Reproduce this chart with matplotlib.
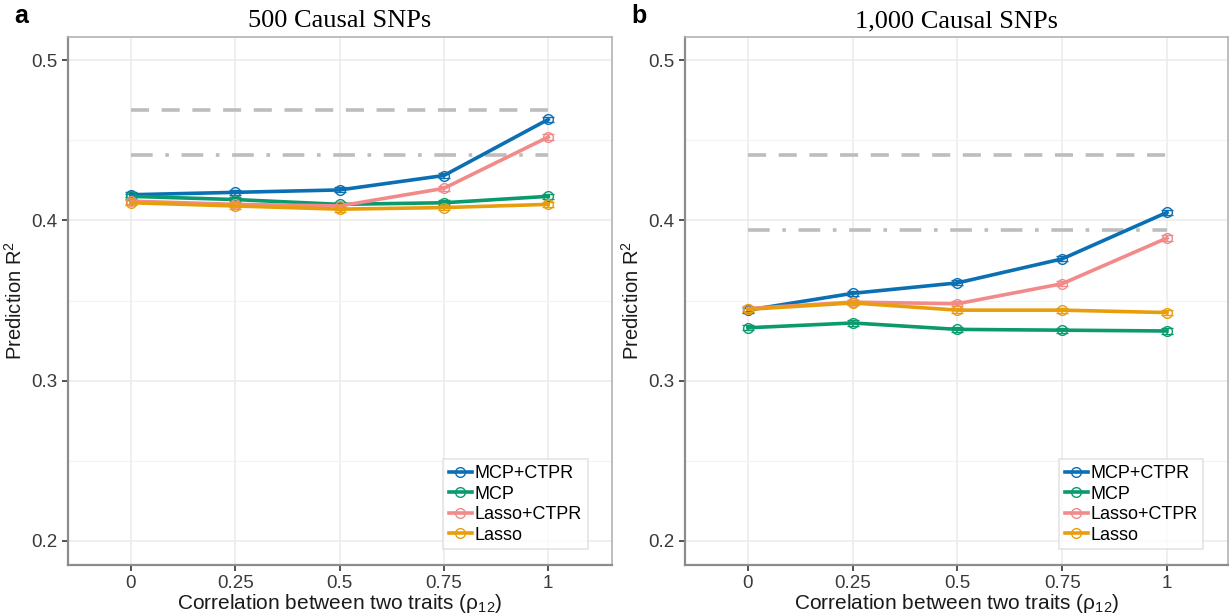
import matplotlib
matplotlib.use("Agg")
import matplotlib.pyplot as plt
from matplotlib.lines import Line2D
from matplotlib.ticker import FixedLocator

plt.rcParams["font.family"] = ["Liberation Sans", "DejaVu Sans"]
plt.rcParams["mathtext.default"] = "regular"

# 数据
rho = [0, 0.25, 0.5, 0.75, 1]
tick_labels = ["0", "0.25", "0.5", "0.75", "1"]
methods = ["MCP+CTPR", "MCP", "Lasso+CTPR", "Lasso"]
colors = ["#0b6fb3", "#0a9a6e", "#f28a8a", "#e89e0c"]

# 500 causal SNPs
a_mcp_ctpr = [0.416, 0.4175, 0.419, 0.428, 0.463]
a_mcp = [0.415, 0.413, 0.410, 0.411, 0.415]
a_lasso_ctpr = [0.412, 0.410, 0.409, 0.420, 0.452]
a_lasso = [0.411, 0.409, 0.407, 0.408, 0.410]
a_ref_dash = 0.469
a_ref_dashdot = 0.4405

# 1,000 causal SNPs
b_mcp_ctpr = [0.344, 0.3545, 0.361, 0.376, 0.405]
b_mcp = [0.333, 0.336, 0.332, 0.3315, 0.331]
b_lasso_ctpr = [0.345, 0.349, 0.348, 0.3605, 0.389]
b_lasso = [0.3445, 0.3485, 0.344, 0.344, 0.3425]
b_ref_dash = 0.4405
b_ref_dashdot = 0.394

err = 0.0016

fig = plt.figure(figsize=(12.29, 6.15), dpi=100)
ax_a = fig.add_axes([0.0553, 0.0813, 0.4427, 0.8585])
ax_b = fig.add_axes([0.5574, 0.0813, 0.4416, 0.8585])


def draw_panel(ax, series, ref_dash, ref_dashdot, xlim, title):
    ax.set_xlim(*xlim)
    ax.set_ylim(0.185, 0.5144)
    ax.set_axisbelow(True)
    ax.set_xticks(rho)
    ax.set_xticklabels(tick_labels)
    ax.set_yticks([0.2, 0.3, 0.4, 0.5])
    ax.set_yticklabels(["0.2", "0.3", "0.4", "0.5"])
    ax.yaxis.set_minor_locator(FixedLocator([0.25, 0.35, 0.45]))
    ax.grid(True, which="major", color="#ebebeb", lw=1.1)
    ax.grid(True, which="minor", axis="y", color="#f3f3f3", lw=0.8)
    ax.tick_params(which="minor", length=0)
    ax.tick_params(which="major", length=4, width=1.2, color="#333333",
                   labelsize=13.5, labelcolor="#3a3a3a")

    # 参考线
    ax.plot([0, 1], [ref_dash, ref_dash], color="#bdbdbd", lw=2.6,
            dashes=(5, 3.5), zorder=2)
    ax.plot([0, 1], [ref_dashdot, ref_dashdot], color="#bdbdbd", lw=2.6,
            dashes=(6, 3.5, 1, 3.5), zorder=2)

    handles = []
    for name, vals, c in zip(methods, series, colors):
        ax.errorbar(rho, vals, yerr=err, color=c, lw=2.6, capsize=4,
                    capthick=1.2, elinewidth=1.2, marker="o", ms=7,
                    mfc="none", mew=1.0, zorder=3)
        handles.append(Line2D([], [], color=c, lw=2.6, marker="o", ms=7,
                              mfc="none", mew=1.0, label=name))

    for side in ["top", "right"]:
        ax.spines[side].set_color("#b3b3b3")
        ax.spines[side].set_linewidth(1.2)
    for side in ["left", "bottom"]:
        ax.spines[side].set_color("#8c8c8c")
        ax.spines[side].set_linewidth(1.6)

    ax.set_xlabel(r"Correlation between two traits ($\rho_{12}$)",
                  fontsize=15, color="#1a1a1a", labelpad=0)
    ax.set_ylabel(r"Prediction R$^2$", fontsize=14.5, color="#1a1a1a", labelpad=4)
    ax.set_title(title, fontsize=19, family=["Liberation Serif", "DejaVu Serif"],
                 pad=7)
    leg = ax.legend(handles=handles, loc="lower right",
                    bbox_to_anchor=(0.955, 0.03),
                    fontsize=13, frameon=True, fancybox=False,
                    handlelength=1.3, handletextpad=0.15, borderpad=0.3,
                    labelspacing=0.2, borderaxespad=0)
    leg.get_frame().set_edgecolor("#dddddd")
    leg.get_frame().set_linewidth(1.2)


draw_panel(ax_a, [a_mcp_ctpr, a_mcp, a_lasso_ctpr, a_lasso],
           a_ref_dash, a_ref_dashdot, (-0.151, 1.153), "500 Causal SNPs")
draw_panel(ax_b, [b_mcp_ctpr, b_mcp, b_lasso_ctpr, b_lasso],
           b_ref_dash, b_ref_dashdot, (-0.150, 1.145), "1,000 Causal SNPs")

fig.text(0.012, 0.962, "a", fontsize=18, fontweight="bold")
fig.text(0.514, 0.962, "b", fontsize=18, fontweight="bold")

fig.savefig("out.png", dpi=100)
